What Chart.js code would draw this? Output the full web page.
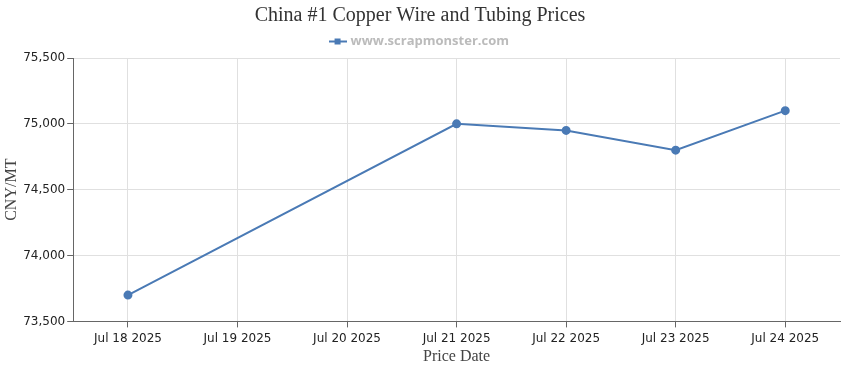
<!DOCTYPE html>
<html>
<head>
<meta charset="utf-8">
<script src="https://cdn.jsdelivr.net/npm/chart.js@4"></script>
<style>
  html, body { margin: 0; padding: 0; background: #fff; }
  #wrap { width: 850px; height: 370px; }
</style>
</head>
<body>
<div id="wrap"><canvas id="priceChart"></canvas></div>
<script>
// datos del grafico
var fechas = ['Jul 18 2025', 'Jul 19 2025', 'Jul 20 2025', 'Jul 21 2025', 'Jul 22 2025', 'Jul 23 2025', 'Jul 24 2025'];
var precios = [73700, null, null, 75000, 74950, 74800, 75100];
var serieNombre = 'www.scrapmonster.com';
var yMin = 73500, yMax = 75500, yPaso = 500;

var azul = '#4a7ab5';

// icono de la leyenda: linea con un cuadrito
var icono = document.createElement('canvas');
icono.width = 18; icono.height = 8;
var ic = icono.getContext('2d');
ic.fillStyle = azul;
ic.fillRect(0, 3, 18, 2);
ic.fillRect(6, 1, 6, 6);

var ctx = document.getElementById('priceChart').getContext('2d');
var chart = new Chart(ctx, {
  type: 'line',
  data: {
    labels: fechas,
    datasets: [{
      label: serieNombre,
      data: precios,
      borderColor: azul,
      backgroundColor: azul,
      borderWidth: 2,
      pointRadius: 3.5,
      pointHoverRadius: 3.5,
      pointBackgroundColor: azul,
      pointBorderColor: azul,
      spanGaps: true,
      tension: 0,
      fill: false
    }]
  },
  options: {
    responsive: true,
    maintainAspectRatio: false,
    animation: false,
    layout: { padding: { left: 0, right: 10, top: 2, bottom: 4 } },
    plugins: {
      title: {
        display: true,
        text: 'China #1 Copper Wire and Tubing Prices',
        color: '#333',
        font: { family: 'Liberation Serif', size: 20, weight: 'normal' },
        padding: { top: 2, bottom: 0 }
      },
      legend: {
        display: true,
        labels: {
          color: '#bbb',
          font: { family: 'Open Sans', size: 13, weight: 'bold' },
          usePointStyle: true,
          pointStyle: icono,
          padding: 7,
          generateLabels: function (c) {
            var l = Chart.defaults.plugins.legend.labels.generateLabels(c);
            l.forEach(function (it) { it.pointStyle = icono; });
            return l;
          }
        }
      },
      tooltip: { enabled: false }
    },
    scales: {
      x: {
        offset: true,
        grid: { color: '#e0e0e0', tickLength: 6, tickColor: '#666', offset: false },
        border: { color: '#666', width: 1 },
        ticks: {
          color: '#222',
          font: { family: 'DejaVu Sans', size: 12 },
          maxRotation: 0,
          autoSkip: false,
          padding: 4
        },
        title: {
          display: true,
          text: 'Price Date',
          color: '#444',
          font: { family: 'Liberation Serif', size: 16 },
          padding: { top: -3, bottom: 0 }
        }
      },
      y: {
        min: yMin,
        max: yMax,
        grid: { color: '#e0e0e0', tickLength: 6, tickColor: '#666' },
        border: { color: '#666', width: 1 },
        ticks: {
          stepSize: yPaso,
          color: '#222',
          font: { family: 'DejaVu Sans', size: 12 },
          padding: 2,
          callback: function (v) { return v.toLocaleString('en-US'); }
        },
        title: {
          display: true,
          text: 'CNY/MT',
          color: '#444',
          font: { family: 'Liberation Serif', size: 16 },
          padding: { top: 2, bottom: 0 }
        }
      }
    }
  }
});
</script>
</body>
</html>
